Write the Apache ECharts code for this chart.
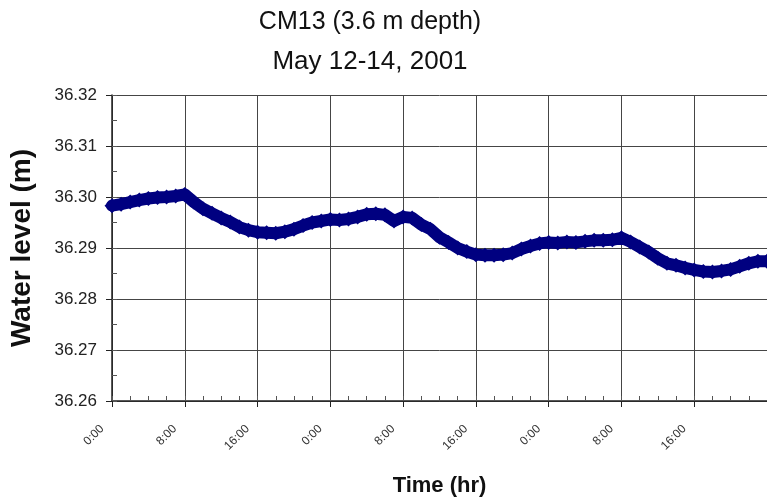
<!DOCTYPE html>
<html>
<head>
<meta charset="utf-8">
<script src="https://cdn.jsdelivr.net/npm/echarts@6/dist/echarts.min.js"></script>
<style>
  html, body { margin: 0; padding: 0; background: #fff; }
  #chart { width: 767px; height: 502px; }
</style>
</head>
<body>
<div id="chart"></div>
<script>
// Hourly water level readings (m) at CM13, 0 h = May 12 0:00
const levels = [
  36.2983, 36.2986, 36.2990, 36.2994, 36.2997, 36.2999, 36.3000, 36.3002, 36.3005,
  36.2990, 36.2977, 36.2968, 36.2959, 36.2951, 36.2941, 36.2935, 36.2931,
  36.2930, 36.2929, 36.2932, 36.2937, 36.2944, 36.2950, 36.2953, 36.2956,
  36.2955, 36.2957, 36.2961, 36.2966, 36.2967, 36.2965, 36.2953, 36.2961,
  36.2959, 36.2946, 36.2937, 36.2921, 36.2911, 36.2900, 36.2893, 36.2887,
  36.2886, 36.2886, 36.2887, 36.2890, 36.2898, 36.2904, 36.2909, 36.2911,
  36.2910, 36.2912, 36.2911, 36.2913, 36.2915, 36.2915, 36.2916, 36.2920,
  36.2912, 36.2902, 36.2892, 36.2880, 36.2870, 36.2866, 36.2861, 36.2857,
  36.2854, 36.2853, 36.2855, 36.2858, 36.2864, 36.2870, 36.2874, 36.2874
];
// Time axis tick labels, every 8 hours
const timeTicks = ['0:00', '8:00', '16:00', '0:00', '8:00', '16:00', '0:00', '8:00', '16:00', '0:00'];
// Water level axis tick labels
const levelTicks = ['36.26', '36.27', '36.28', '36.29', '36.30', '36.31', '36.32'];

const series = levels.map((v, i) => [i, v]);

const chart = echarts.init(document.getElementById('chart'), null, { renderer: 'canvas' });
const font = 'Liberation Sans, Arial, sans-serif';
const axisColor = '#222';
const gridColor = '#454545';

chart.setOption({
  animation: false,
  backgroundColor: '#fff',
  title: {
    text: '{a|CM13 (3.6 m depth)}\n{b|May 12-14, 2001}',
    left: 365,
    top: -3,
    textAlign: 'center',
    textStyle: {
      fontWeight: 'normal',
      rich: {
        a: { fontFamily: font, fontSize: 25, fontWeight: 'normal', color: '#111', lineHeight: 40 },
        b: { fontFamily: font, fontSize: 26, fontWeight: 'normal', color: '#111', lineHeight: 40 }
      }
    }
  },
  grid: { left: 110, right: 0, top: 95, bottom: 99, containLabel: false },
  xAxis: [
    {
      type: 'value', min: 0, max: 72, interval: 8, position: 'bottom',
      name: 'Time (hr)', nameLocation: 'middle', nameGap: 74,
      nameTextStyle: { fontFamily: font, fontSize: 22, fontWeight: 'bold', color: '#111' },
      axisLine: { show: true, onZero: false, lineStyle: { color: axisColor, width: 1.5 } },
      axisTick: { show: true, inside: false, length: 6, lineStyle: { color: axisColor } },
      axisLabel: {
        rotate: 45, margin: 16, showMaxLabel: false,
        fontFamily: font, fontSize: 12, color: '#333',
        padding: [0, 14, 0, 0],
        formatter: v => timeTicks[Math.round(v / 8)] || ''
      },
      splitLine: { show: true, lineStyle: { color: gridColor, width: 1 } }
    },
    {
      type: 'value', min: 0, max: 72, interval: 2, position: 'bottom',
      axisLine: { show: false, onZero: false },
      axisTick: { show: true, inside: true, length: 5, lineStyle: { color: '#555' } },
      axisLabel: { show: false },
      splitLine: { show: false }
    }
  ],
  yAxis: [
    {
      type: 'value', min: 36.26, max: 36.32, interval: 0.01, position: 'left',
      name: 'Water level (m)', nameLocation: 'middle', nameGap: 76,
      nameTextStyle: { fontFamily: font, fontSize: 28, fontWeight: 'bold', color: '#111' },
      axisLine: { show: true, onZero: false, lineStyle: { color: axisColor, width: 1.5 } },
      axisTick: { show: true, inside: false, length: 6, lineStyle: { color: axisColor } },
      axisLabel: {
        margin: 15,
        fontFamily: font, fontSize: 17, color: '#222',
        formatter: v => levelTicks[Math.round((v - 36.26) / 0.01)] || ''
      },
      splitLine: { show: true, lineStyle: { color: gridColor, width: 1 } }
    },
    {
      type: 'value', min: 36.26, max: 36.32, interval: 0.005, position: 'left',
      axisLine: { show: false, onZero: false },
      axisTick: { show: true, inside: true, length: 5, lineStyle: { color: '#555' } },
      axisLabel: { show: false },
      splitLine: { show: false }
    }
  ],
  series: [
    {
      type: 'line',
      data: series,
      xAxisIndex: 0,
      yAxisIndex: 0,
      symbol: 'diamond',
      symbolSize: 15,
      showAllSymbol: true,
      smooth: false,
      lineStyle: { color: '#000080', width: 12, cap: 'round', join: 'round' },
      itemStyle: { color: '#000080' },
      clip: true
    }
  ]
});
</script>
</body>
</html>
